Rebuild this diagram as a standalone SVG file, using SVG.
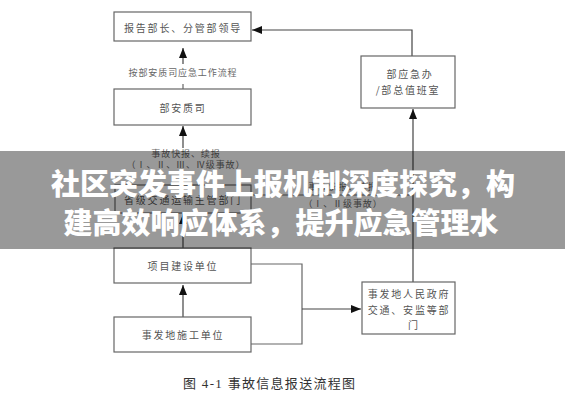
<svg xmlns="http://www.w3.org/2000/svg" width="565" height="400" viewBox="0 0 565 400">
<defs>
<marker id="ah" markerUnits="userSpaceOnUse" markerWidth="10" markerHeight="8" refX="10" refY="4" orient="auto">
<path d="M0,0 L10,4 L0,8 z" fill="#111"/>
</marker>
<style>
.box{fill:#fff;stroke:#666;stroke-width:1.2}
.t{font-family:"Noto Sans CJK SC","Noto Sans",sans-serif;font-size:10px;fill:#555;text-anchor:middle;letter-spacing:1.8px;dominant-baseline:central}
.s{font-family:"Noto Sans CJK SC","Noto Sans",sans-serif;font-size:9px;fill:#666;text-anchor:middle;letter-spacing:0.9px;dominant-baseline:central}
.c{fill:none;stroke:#666;stroke-width:1.2}
.a{fill:none;stroke:#444;stroke-width:1.2;marker-end:url(#ah)}
.title{font-family:"Noto Sans CJK SC","Noto Sans",sans-serif;font-size:29px;font-weight:900;fill:#fff;text-anchor:middle;dominant-baseline:central}
</style>
</defs>
<rect width="565" height="400" fill="#fff"/>
<g id="connectors">
<path class="a" d="M412,56 L412,30 L252,30"/>
<path class="c" d="M183,89 L183,84"/>
<path class="a" d="M183,64 L183,48"/>
<path class="a" d="M183,148 L183,126"/>
<path class="c" d="M183,185 L183,172"/>
<path class="a" d="M183,248 L183,214"/>
<path class="c" d="M251,195 L413,195"/>
<path class="a" d="M413,282 L413,109"/>
<path class="c" d="M251,264 L302,264 L302,344 L251,344"/>
<path class="a" d="M302,309 L361,309"/>
<path class="a" d="M183,317 L183,285"/>
<text class="s" x="183" y="72">按部安质司应急工作流程</text>
<text class="s" x="186" y="153">事故快报、续报</text>
<text class="s" x="186" y="164">（Ⅰ、Ⅱ、Ⅲ、Ⅳ级事故）</text>
<text class="s" x="343" y="186">事故快报、续报</text>
<text class="s" x="343" y="203">（Ⅰ、Ⅱ级事故）</text>
</g>
<g id="n1"><rect class="box" x="114" y="12" width="137" height="29"/><text class="t" x="183" y="27">报告部长、分管部领导</text></g>
<g id="n2"><rect class="box" x="114" y="89" width="137" height="36"/><text class="t" x="183" y="107">部安质司</text></g>
<g id="n3"><rect class="box" x="115" y="185" width="136" height="28"/><text class="t" x="183" y="199">省级交通运输主管部门</text></g>
<g id="n4"><rect class="box" x="114" y="248" width="137" height="35"/><text class="t" x="183" y="265">项目建设单位</text></g>
<g id="n5"><rect class="box" x="114" y="317" width="137" height="35"/><text class="t" x="183" y="334">事发地施工单位</text></g>
<g id="n6"><rect class="box" x="361" y="56" width="94" height="52"/><text class="t" x="410" y="73">部应急办</text><text class="t" x="408" y="89">/部总值班室</text></g>
<g id="n7"><rect class="box" x="362" y="282" width="93" height="52"/><text class="t" x="409" y="293">事发地人民政府</text><text class="t" x="409" y="309">交通、安监等部</text><text class="t" x="414" y="324">门</text></g>
<text x="183" y="388" style="font-family:'Liberation Serif','Noto Sans CJK SC',serif;font-size:13px;fill:#333;letter-spacing:1.3px">图 4-1 事故信息报送流程图</text>
<rect x="0" y="151" width="565" height="98" fill="#000" fill-opacity="0.4"/>
<text class="title" x="283" y="182">社区突发事件上报机制深度探究，构</text>
<text class="title" x="281" y="221">建高效响应体系，提升应急管理水</text>
</svg>
